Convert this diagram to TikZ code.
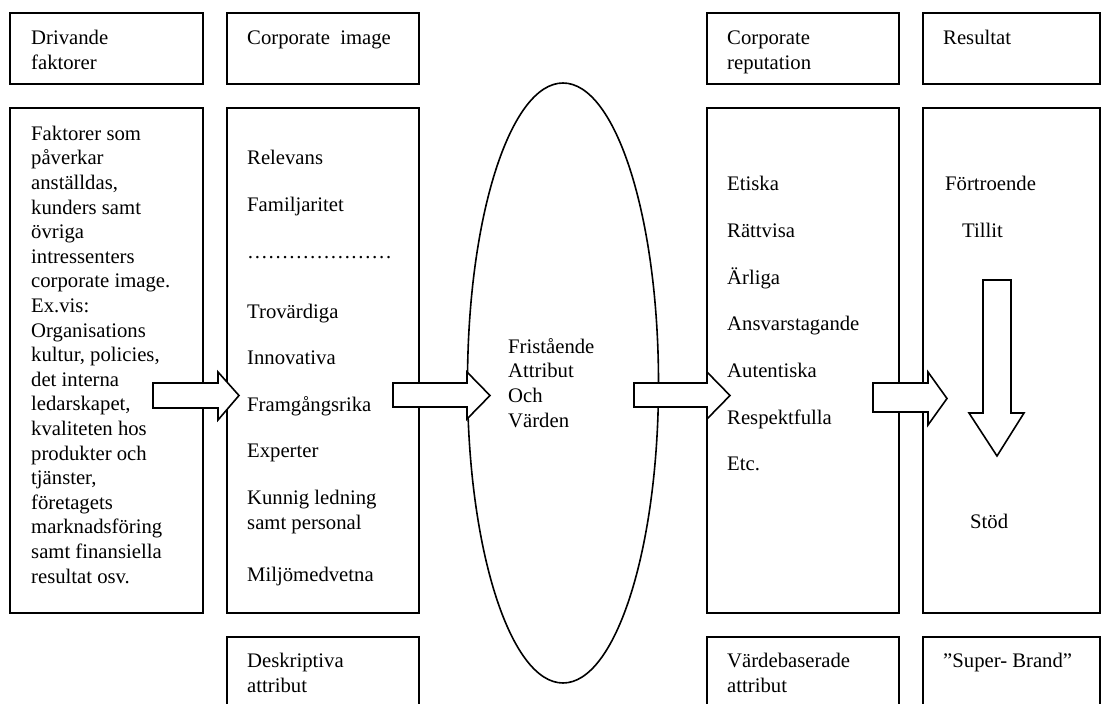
\documentclass[tikz,border=0pt]{standalone}
\usepackage{fontspec}
\setmainfont{Liberation Serif}
\usepackage{tikz}
\usetikzlibrary{shapes.geometric,
           positioning}
\tikzset{
  box/.style={draw, line width=1.6pt, inner sep=0pt, anchor=north west},
  txt/.style={anchor=base west, inner sep=0pt, align=left,
              font=\fontsize{20.7}{24.6}\selectfont},
  blockarrow/.style={draw, fill=white, line width=1.6pt, line join=miter},
}

\begin{document}
\begin{tikzpicture}[x=1pt,y=-1pt]
    \useasboundingbox (0,0) rectangle (1104,704);
    % rubriker
    \node[box, minimum width=193pt, minimum height=71pt](hdA)at(9,12){};
    \node[box, minimum width=192pt, minimum height=71pt](hdB)at(226,12){};
    \node[box, minimum width=192pt, minimum height=71pt](hdC)at(706,12){};
    \node[box, minimum width=177pt, minimum height=71pt](hdD)at(922,12){};
    % huvudrutor
    \node[box, minimum width=193pt, minimum height=505pt](mA)at(9,107){};
    \node[box, minimum width=192pt, minimum height=505pt](mB)at(226,107){};
    \node[box, minimum width=192pt, minimum height=505pt](mC)at(706,107){};
    \node[box, minimum width=177pt, minimum height=505pt](mD)at(922,107){};
    % nedre rutor
    \node[box, minimum width=192pt, minimum height=90pt](ftB)at(226,636){};
    \node[box, minimum width=192pt, minimum height=90pt](ftC)at(706,636){};
    \node[box, minimum width=177pt, minimum height=90pt](ftD)at(922,636){};
    \node[ellipse, draw, line width=1.6pt, inner sep=0pt,
          minimum width=191pt, minimum height=600pt](oval)at(563,383){};
    % pilar
    \draw[blockarrow] (153,383)--(218,383)--(218,372)--(239,395.5)--(218,420)--(218,408)--(153,408)--cycle;
    \draw[blockarrow] (393,383)--(467,383)--(467,372)--(490,395.5)--(467,419)--(467,407)--(393,407)--cycle;
    \draw[blockarrow] (634,383)--(707,383)--(707,372)--(730,395.5)--(707,419)--(707,407)--(634,407)--cycle;
    \draw[blockarrow] (873,383)--(928,383)--(928,372)--(947,398.5)--(928,425)--(928,412)--(873,412)--cycle;
    \draw[blockarrow] (983,280)--(1011,280)--(1011,413)--(1024,413)--(997,456)--(969,413)--(983,413)--cycle;
    % texter (base = sista raden)
    \node[txt](tA)at(31,69){Drivande\\faktorer};
    \node[txt](tB)at(247,44){Corporate~~image};
    \node[txt](tC)at(727,69){Corporate\\reputation};
    \node[txt](tD)at(943,44){Resultat};
    \node[txt](fB)at(247,692){Deskriptiva\\attribut};
    \node[txt](fC)at(727,692){Värdebaserade\\attribut};
    \node[txt](fD)at(943,667){”Super- Brand”};
    \node[txt](faktorer)at(31,583){Faktorer som\\påverkar\\anställdas,\\kunders samt\\övriga\\intressenters\\corporate image.\\Ex.vis:\\Organisations\\kultur, policies,\\det interna\\ledarskapet,\\kvaliteten hos\\produkter och\\tjänster,\\företagets\\marknadsföring\\samt finansiella\\resultat osv.};
    \foreach \y/\t [count=\i] in {164/Relevans, 211/Familjaritet, 258/…………………, 318/Trovärdiga,
        364/Innovativa, 411/Framgångsrika, 457/Experter, 529/{Kunnig ledning\\samt personal}, 581/Miljömedvetna}
      \node[txt](img\i)at(247,\y){\t};
    \node[txt](oval text)at(508,427){Fristående\\Attribut\\Och\\Värden};
    \foreach \y/\t [count=\i] in {190/Etiska, 237/Rättvisa, 284/Ärliga, 330/Ansvarstagande,
        377/Autentiska, 424/Respektfulla, 470/Etc.}
      \node[txt](rep\i)at(727,\y){\t};
    \node[txt](res1)at(945,190){Förtroende};
    \node[txt](res2)at(962,237){Tillit};
    \node[txt](res3)at(970,528){Stöd};
\end{tikzpicture}
\end{document}
